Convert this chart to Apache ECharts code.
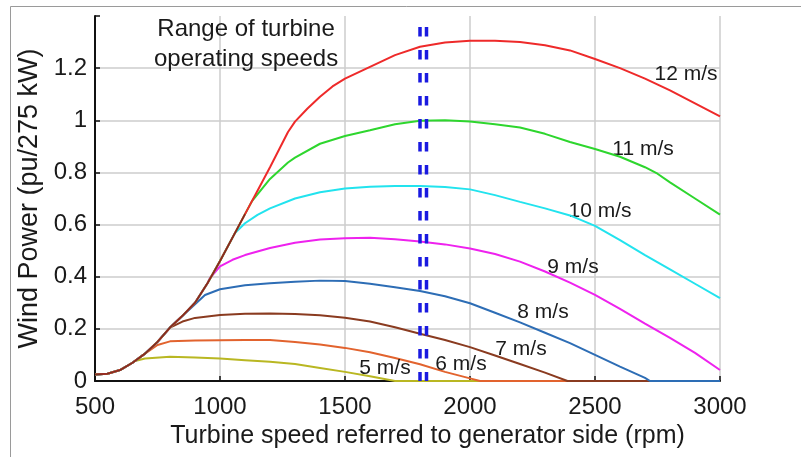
<!DOCTYPE html>
<html>
<head>
<meta charset="utf-8">
<script src="https://cdn.jsdelivr.net/npm/echarts@6/dist/echarts.min.js"></script>
<style>
  html, body { margin: 0; padding: 0; background: #fff; }
  #chart { width: 801px; height: 457px; }
</style>
</head>
<body>
<div id="chart"></div>
<script>
// Shared rise of power with speed (optimum-power region), [rpm, pu]
const rise = [[500,0.025],[550,0.028],[600,0.042],[650,0.07],[700,0.105],[750,0.15],[800,0.205],
  [850,0.25],[900,0.30],[950,0.375],[1000,0.46],[1050,0.55],[1100,0.64],[1150,0.73],[1200,0.82],[1272,0.955]];

// Each wind speed leaves the shared rise at its first point
const ws5  = [[660,0.077],[700,0.086],[800,0.093],[900,0.09],[1000,0.086],[1100,0.08],[1200,0.074],[1300,0.065],
  [1400,0.05],[1500,0.035],[1600,0.018],[1700,0],[3000,0]];
const ws6  = [[700,0.105],[750,0.138],[800,0.152],[900,0.155],[1000,0.156],[1100,0.157],[1200,0.157],[1300,0.15],
  [1400,0.14],[1500,0.127],[1600,0.11],[1700,0.088],[1800,0.064],[1900,0.035],[2000,0.01],[2040,0],[3000,0]];
const ws7  = [[800,0.205],[850,0.228],[900,0.242],[1000,0.253],[1100,0.258],[1200,0.259],[1300,0.257],[1400,0.252],
  [1500,0.243],[1600,0.228],[1700,0.206],[1800,0.181],[1900,0.157],[2000,0.13],[2100,0.098],[2200,0.065],
  [2300,0.032],[2390,0],[3000,0]];
const ws8  = [[830,0.232],[940,0.33],[1000,0.352],[1100,0.367],[1200,0.375],[1300,0.381],[1400,0.385],[1500,0.384],
  [1600,0.373],[1700,0.36],[1800,0.345],[1900,0.325],[2000,0.298],[2100,0.262],[2200,0.225],[2300,0.185],
  [2400,0.145],[2500,0.10],[2600,0.055],[2700,0.012],[2720,0],[3000,0]];
const ws9  = [[960,0.395],[1000,0.44],[1050,0.465],[1100,0.483],[1200,0.51],[1300,0.53],[1400,0.543],[1500,0.548],
  [1600,0.549],[1700,0.544],[1800,0.535],[1900,0.524],[2000,0.508],[2100,0.487],[2200,0.458],[2300,0.42],
  [2400,0.377],[2500,0.33],[2600,0.277],[2700,0.22],[2800,0.165],[2900,0.108],[3000,0.042]];
const ws10 = [[1060,0.568],[1100,0.605],[1150,0.637],[1200,0.662],[1300,0.70],[1400,0.724],[1500,0.738],[1600,0.745],
  [1700,0.748],[1800,0.748],[1900,0.744],[2000,0.735],[2100,0.713],[2200,0.687],[2300,0.662],[2400,0.635],
  [2500,0.595],[2600,0.54],[2700,0.483],[2800,0.428],[2900,0.373],[3000,0.318]];
const ws11 = [[1128,0.69],[1200,0.775],[1272,0.838],[1300,0.857],[1400,0.91],[1500,0.94],[1600,0.962],[1700,0.985],
  [1800,0.998],[1900,1.0],[2000,0.995],[2100,0.985],[2200,0.972],[2300,0.948],[2400,0.917],[2500,0.89],
  [2600,0.86],[2700,0.82],[2750,0.795],[2800,0.762],[2900,0.70],[3000,0.638]];
const ws12 = [[1272,0.955],[1300,0.995],[1350,1.045],[1400,1.09],[1450,1.13],[1500,1.16],[1600,1.205],[1700,1.25],
  [1800,1.282],[1900,1.298],[2000,1.305],[2100,1.305],[2200,1.30],[2300,1.288],[2400,1.268],[2500,1.235],
  [2600,1.20],[2700,1.16],[2800,1.115],[2900,1.065],[3000,1.015]];

const speedNames = ['5 m/s','6 m/s','7 m/s','8 m/s','9 m/s','10 m/s','11 m/s','12 m/s'];
const speedTails = [ws5, ws6, ws7, ws8, ws9, ws10, ws11, ws12];
const speedColors = ['#b9b722','#e2632e','#8a3b20','#2d6db5','#ee22ee','#22e3ee','#2ed62e','#ee2a2a'];
// Label anchor for each curve name, [rpm, pu]
const labelAnchors = [[1660,0.05],[1964,0.065],[2204,0.123],[2292,0.262],[2412,0.435],[2520,0.65],[2692,0.888],[2864,1.177]];

// Range of turbine operating speeds (rpm) and height of the marker lines (pu)
const opRange = [1800, 1826];
const opTop = 1.358;

const xTicks = { min: 500, max: 3000, step: 500 };
const yTicks = { min: 0, max: 1.4, step: 0.2 };

const FONT = '"Liberation Sans", Arial, sans-serif';
const INK = '#1a1a1a';

function curve(tail) {
  const start = tail[0][0];
  return rise.filter(p => p[0] < start).concat(tail);
}

const series = speedTails.map((tail, i) => ({
  name: speedNames[i],
  type: 'line',
  data: curve(tail),
  symbol: 'none',
  lineStyle: { color: speedColors[i], width: 2 },
  z: 2 + i,
  markPoint: {
    symbol: 'circle',
    symbolSize: 1,
    itemStyle: { color: 'rgba(0,0,0,0)' },
    label: {
      show: true, position: 'inside', formatter: speedNames[i],
      fontFamily: FONT, fontSize: 21, color: INK
    },
    data: [{ coord: labelAnchors[i] }]
  }
}));

// Common optimum-power rise drawn over the curves
series.push({
  name: 'rise',
  type: 'line',
  data: rise.filter(p => p[0] <= 1128),
  symbol: 'none',
  lineStyle: { color: '#7a2f22', width: 1.4 },
  z: 12
});

opRange.forEach(rpm => {
  series.push({
    type: 'line',
    data: [[rpm, opTop], [rpm, 0]],
    symbol: 'none',
    lineStyle: { color: '#1a1ae0', width: 3.5, type: [9.5, 13.5] },
    z: 15
  });
});

const chart = echarts.init(document.getElementById('chart'), null, { renderer: 'canvas' });
chart.setOption({
  animation: false,
  backgroundColor: '#ffffff',
  grid: { left: 95, top: 16, right: 81, bottom: 76, containLabel: false },
  xAxis: {
    type: 'value',
    min: xTicks.min, max: xTicks.max, interval: xTicks.step,
    name: 'Turbine speed referred to generator side (rpm)',
    nameLocation: 'middle',
    nameGap: 40,
    nameTextStyle: { fontFamily: FONT, fontSize: 25, color: INK, padding: [0, 0, 0, 40] },
    axisLine: { lineStyle: { color: '#111', width: 2 } },
    axisTick: { inside: true, length: 5, lineStyle: { color: '#111', width: 1.5 } },
    axisLabel: { fontFamily: FONT, fontSize: 24, color: INK, margin: 14, formatter: v => String(v) },
    splitLine: { show: true, showMinLine: false, lineStyle: { color: '#cdcdcd', width: 1.5 } }
  },
  yAxis: {
    type: 'value',
    min: yTicks.min, max: yTicks.max, interval: yTicks.step,
    name: 'Wind Power (pu/275 kW)',
    nameLocation: 'middle',
    nameGap: 52,
    nameTextStyle: { fontFamily: FONT, fontSize: 27, color: INK },
    axisLine: { show: true, lineStyle: { color: '#111', width: 2 } },
    axisTick: { show: true, inside: true, length: 5, lineStyle: { color: '#111', width: 1.5 } },
    axisLabel: {
      fontFamily: FONT, fontSize: 24, color: INK, margin: 8,
      formatter: v => (v > 1.3 ? '' : String(Math.round(v * 10) / 10))
    },
    splitLine: { show: true, showMinLine: false, showMaxLine: false, lineStyle: { color: '#cdcdcd', width: 1.5 } }
  },
  graphic: [
    {
      type: 'rect',
      shape: { x: 10.5, y: 6.5, width: 820, height: 480 },
      style: { fill: null, stroke: '#9a9a9a', lineWidth: 1 },
      silent: true
    },
    {
      type: 'text',
      left: 154, top: 14,
      style: {
        text: 'Range of turbine\noperating speeds',
        font: '24px ' + FONT,
        fill: INK,
        textAlign: 'center',
        lineHeight: 30
      },
      z: 20
    }
  ],
  series: series
});
</script>
</body>
</html>
